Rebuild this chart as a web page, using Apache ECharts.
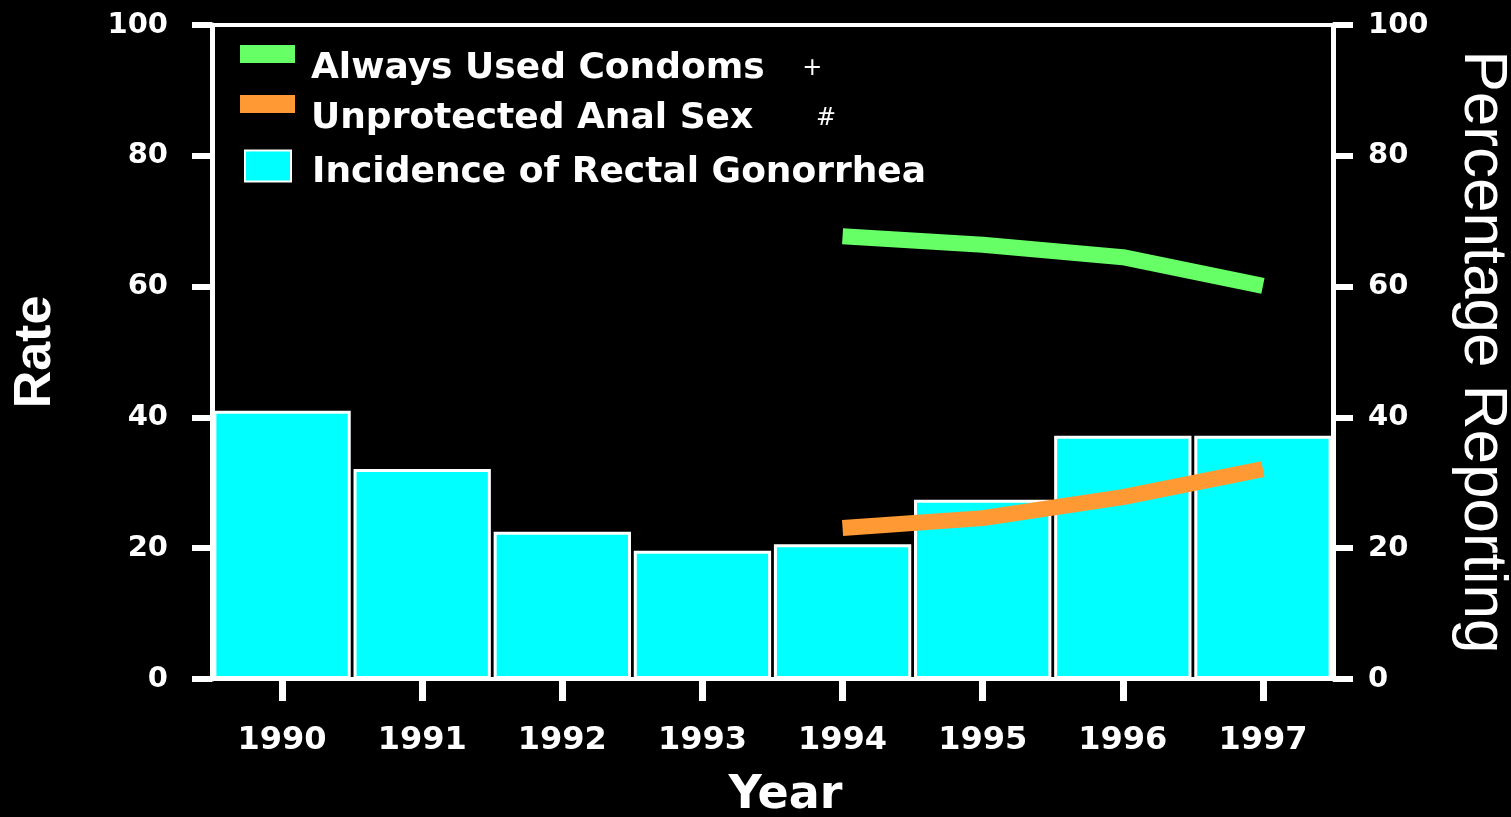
<!DOCTYPE html>
<html>
<head>
<meta charset="utf-8">
<title>Rectal Gonorrhea and Condom Use</title>
<script src="https://cdn.jsdelivr.net/npm/echarts@6/dist/echarts.min.js"></script>
<style>
  html, body { margin: 0; padding: 0; background: #000; }
  #chart { width: 1511px; height: 817px; }
</style>
</head>
<body>
<div id="chart"></div>
<script>
// data
var years = ["1990", "1991", "1992", "1993", "1994", "1995", "1996", "1997"];
var gonorrheaRate = [41.0, 32.1, 22.5, 19.6, 20.6, 27.4, 37.2, 37.2];
var alwaysCondoms = [null, null, null, null, 67.7, 66.4, 64.5, 60.1];
var unprotectedAnal = [null, null, null, null, 23.1, 24.6, 27.8, 32.1];
var yTicks = [0, 20, 40, 60, 80, 100];

var labelFont = "DejaVu Sans";
var legendMarks = {
  "Always Used Condoms": "   {s|+}",
  "Unprotected Anal Sex": "     {s|#}",
  "Incidence of Rectal Gonorrhea": ""
};

// one legend per entry so each can sit where it does in the picture
function legendFor(name, top, left, w, h, lh, gap) {
  return {
    data: [name],
    left: left,
    top: top,
    padding: 0,
    itemWidth: w,
    itemHeight: h,
    icon: "rect",
    selectedMode: false,
    formatter: function (n) {
      // blank first line pushes the text a bit below the icon middle
      return "\n" + n + legendMarks[n];
    },
    textStyle: {
      color: "#fff",
      fontFamily: labelFont,
      fontWeight: "bold",
      fontSize: 36,
      lineHeight: lh,
      padding: [0, 0, 0, gap],
      rich: {
        s: { color: "#fff", fontFamily: labelFont, fontSize: 24, fontWeight: "normal", lineHeight: lh }
      }
    }
  };
}

var myChart = echarts.init(document.getElementById("chart"));

var option = {
  backgroundColor: "#000",
  animation: false,
  grid: {
    left: 212,
    right: 178,
    top: 25,
    bottom: 138,
    outerBoundsMode: "none",
    containLabel: false,
    show: true,
    borderColor: "#fff",
    borderWidth: 4,
    backgroundColor: "transparent"
  },
  legend: [
    legendFor("Always Used Condoms", 21, 240, 55, 18, 30, 11),
    legendFor("Unprotected Anal Sex", 71, 240, 55, 18, 30, 11),
    legendFor("Incidence of Rectal Gonorrhea", 141, 244, 46, 31, 14, 16)
  ],
  xAxis: {
    type: "category",
    data: years,
    boundaryGap: true,
    name: "Year",
    nameLocation: "middle",
    nameGap: 94,
    nameTextStyle: {
      color: "#fff",
      fontFamily: labelFont,
      fontWeight: "bold",
      fontSize: 46,
      padding: [0, 0, 0, 26]
    },
    axisLine: { show: true, lineStyle: { color: "#fff", width: 4 } },
    axisTick: { show: true, alignWithLabel: true, length: 22, lineStyle: { color: "#fff", width: 7 } },
    axisLabel: {
      color: "#fff",
      fontFamily: labelFont,
      fontWeight: "bold",
      fontSize: 32,
      margin: 46
    },
    splitLine: { show: false }
  },
  yAxis: [
    {
      type: "value",
      min: yTicks[0],
      max: yTicks[yTicks.length - 1],
      interval: 20,
      position: "left",
      name: "Rate",
      nameLocation: "middle",
      nameGap: 150,
      nameTextStyle: {
        color: "#fff",
        fontFamily: "Liberation Sans",
        fontWeight: "bold",
        fontSize: 52
      },
      axisLine: { show: true, lineStyle: { color: "#fff", width: 5 } },
      axisTick: { show: true, length: 20, lineStyle: { color: "#fff", width: 6 } },
      axisLabel: {
        color: "#fff",
        fontFamily: labelFont,
        fontWeight: "bold",
        fontSize: 29,
        margin: 44
      },
      splitLine: { show: false }
    },
    {
      type: "value",
      min: yTicks[0],
      max: yTicks[yTicks.length - 1],
      interval: 20,
      position: "right",
      name: "Percentage Reporting",
      nameLocation: "middle",
      nameRotate: -90,
      nameGap: 118,
      nameTextStyle: {
        color: "#fff",
        fontFamily: "Liberation Sans",
        fontSize: 62
      },
      axisLine: { show: true, lineStyle: { color: "#fff", width: 5 } },
      axisTick: { show: true, length: 20, lineStyle: { color: "#fff", width: 6 } },
      axisLabel: {
        color: "#fff",
        fontFamily: labelFont,
        fontWeight: "bold",
        fontSize: 29,
        margin: 35
      },
      splitLine: { show: false }
    }
  ],
  series: [
    {
      name: "Incidence of Rectal Gonorrhea",
      type: "bar",
      yAxisIndex: 0,
      data: gonorrheaRate,
      barCategoryGap: "2%",
      itemStyle: { color: "#00ffff", borderColor: "#fff", borderWidth: 3 },
      z: 2
    },
    {
      name: "Always Used Condoms",
      type: "line",
      yAxisIndex: 1,
      data: alwaysCondoms,
      showSymbol: false,
      symbol: "none",
      lineStyle: { color: "#66ff66", width: 16, cap: "butt", join: "round" },
      itemStyle: { color: "#66ff66" },
      z: 3
    },
    {
      name: "Unprotected Anal Sex",
      type: "line",
      yAxisIndex: 1,
      data: unprotectedAnal,
      showSymbol: false,
      symbol: "none",
      lineStyle: { color: "#ff9933", width: 16, cap: "butt", join: "round" },
      itemStyle: { color: "#ff9933" },
      z: 3
    }
  ]
};

myChart.setOption(option);
</script>
</body>
</html>
